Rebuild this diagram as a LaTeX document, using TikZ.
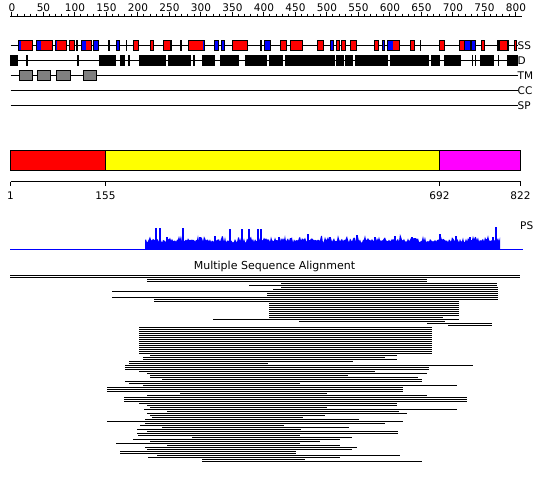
\documentclass[tikz,border=0pt]{standalone}
\usepackage{fontspec}
\setmainfont{DejaVu Sans}
\definecolor{ssred}{RGB}{255,0,0}
\definecolor{ssblue}{RGB}{0,0,255}
\definecolor{tmgray}{RGB}{128,128,128}
\definecolor{domyellow}{RGB}{255,255,0}
\definecolor{dommag}{RGB}{255,0,255}
\tikzset{
  lbl/.style={font=\fontsize{10.5}{12}\selectfont, inner sep=0pt},
  rowline/.style={line width=1pt, black},
  feat/.style={draw=black, line width=1pt},
  alnline/.style={line width=1pt, black},
}
\begin{document}
\begin{tikzpicture}[x=1pt,y=-1pt]
\useasboundingbox (0,0) rectangle (550,483);
% ---------- top ruler ----------
\draw[line width=1pt] (10,16.5) -- (522,16.5);
\foreach \r in {0,10,...,800}{
  \draw[line width=1pt] ({11.5+0.63*\r},13.5) -- ({11.5+0.63*\r},16.5);
}
\foreach \r in {0,50,...,800}{
  \draw[line width=1pt] ({11.5+0.63*\r},11.5) -- ({11.5+0.63*\r},16.5);
  \node[lbl, anchor=south] (rl\r) at ({12+0.63*\r},12) {\r};
}
% ---------- track lines ----------
\foreach \yy/\t in {45.5/SS,60.5/D,75.5/TM,90.5/CC,105.5/SP}{
  \draw[rowline] (10.5,\yy) -- (518,\yy);
  \node[lbl, anchor=west] (lab\t) at (517.5,\yy) {\t};
}
% ---------- SS row ----------
\def\ssT{40.5}\def\ssB{50.5}
\foreach \a/\b/\c in {18.3/21/ssblue,21/32.3/ssred,36/41.3/ssblue,41.3/52.3/ssred,55/57.3/ssblue,57.3/66.7/ssred,
  81.3/85.7/ssblue,85.7/91.7/ssred,163.3/169.5/ssred,169.5/171.3/black,188.3/202.7/ssred,202.7/204.3/ssblue,
  387/393.3/ssblue,393.3/399.5/ssred,497.7/500/black,500/506.7/ssred,506.7/508.3/black}{
  \fill[\c] (\a,\ssT) rectangle (\b,\ssB);
}
\foreach \a/\b in {18.3/32.3,36/52.3,55/66.7,81.3/91.7,163.3/171.3,188.3/204.3,387/399.5,497.7/508.3}{
  \draw[line width=1pt] (\a,\ssT) rectangle (\b,\ssB);
}
\foreach \a/\b/\c in {69/74.3/ssred,93.3/98.7/ssblue,116.3/119.3/ssblue,133.3/138.3/ssred,150/153.3/ssred,
  214/218.7/ssblue,221/224.7/ssblue,232.3/247.3/ssred,264.3/270/ssblue,280.3/286.3/ssred,290.5/302/ssred,
  317.5/323.5/ssred,330.3/333.5/ssblue,336/339.3/ssred,341.3/345.7/ssred,350.3/356.7/ssred,374.3/378.7/ssred,
  382/384.7/ssblue,410/414.7/ssred,439/444.3/ssred,459.5/464.3/ssred,464.3/470.3/ssblue,471.3/475/ssblue,
  481.3/484/ssred,514/516/ssred}{
  \draw[feat, fill=\c] (\a,\ssT) rectangle (\b,\ssB);
}
\foreach \a in {76,108.3,125.7,180.3,260,335.5,419.5}{
  \fill[black] (\a,\ssT-0.5) rectangle (\a+1.6,\ssB+0.5);
}
% ---------- D row ----------
\def\dT{55}\def\dB{66}
\foreach \a/\b in {10/17.7,26/27.5,77.3/78.9,99/115.7,120/125,128/129.5,139/165.7,168/191,193/194.8,
  202/215,220/239,245/266.7,269/283,285.3/335,336/344,345/353,355.3/388,390/429,430.5/440,444.3/460.5,
  472/473.4,474.7/476.1,480.3/493.5,497.7/499,507/517.5}{
  \fill[black] (\a,\dT) rectangle (\b,\dB);
}
% ---------- TM row ----------
\foreach \a/\b in {19.3/32.3,37.3/50.3,56.7/70.3,83.3/96.7}{
  \draw[feat, fill=tmgray] (\a,70.5) rectangle (\b,80.5);
}
% ---------- domain bar ----------
\fill[ssred] (10.5,150.5) rectangle (105.5,170.5);
\fill[domyellow] (105.5,150.5) rectangle (439.5,170.5);
\fill[dommag] (439.5,150.5) rectangle (520.5,170.5);
\draw[line width=1pt] (10.5,150.5) rectangle (520.5,170.5);
\draw[line width=1pt] (105.5,150.5) -- (105.5,170.5);
\draw[line width=1pt] (439.5,150.5) -- (439.5,170.5);
% axis
\draw[line width=1pt] (10.5,181.5) -- (520.5,181.5);
\foreach \xx/\t in {10.5/1,105.5/155,439.5/692,520.5/822}{
  \draw[line width=1pt] (\xx,181.5) -- (\xx,186);
  \node[lbl, anchor=center] (ax\t) at (\xx,196) {\t};
}
% ---------- PS profile ----------
\node[lbl, anchor=west] (ps) at (520,226) {PS};
\pgfmathsetseed{7}
\fill[ssblue] (145,249) \foreach \x in {145,146,...,500}{ -- (\x,{249-6-7*rnd*rnd-3*rnd}) } -- (500,249) -- cycle;
\foreach \xx/\yy in {156/228,160/228,183/228,230/229,242/229,249/229,258/229,261/229,308/234,357/235,
  375/237,395/236,412/237,440/234,456/236,493/237,496/227,167/237,200/237,215/236,279/237,330/237,470/237}{
  \fill[ssblue] (\xx-0.8,249) rectangle (\xx+0.8,\yy);
}
\draw[ssblue, line width=1.2pt] (10,249.5) -- (523,249.5);
% ---------- MSA ----------
\node[lbl, font=\fontsize{11}{13}\selectfont, anchor=center] (msa) at (274.5,266) {Multiple Sequence Alignment};
\foreach \i/\a/\b in {0/10/520,1/10/520,2/147/427,3/147/427,4/281/497,5/249/497,6/281/498,7/273/498,
  8/112/498,9/267/498,10/267/498,11/112/498,12/154/498,13/154/459,14/269/459,15/269/459,16/269/459,
  17/269/459,18/269/459,19/269/459,20/269/459,21/269/443,22/213/459,23/299/445,24/427/492,25/448/492,
  26/139/432,27/139/432,28/139/432,29/139/432,30/139/432,31/139/432,32/139/432,33/139/432,34/139/432,
  35/139/432,36/139/432,37/139/432,38/139/432,39/139/432,
  40/150/397,41/143/385,42/143/397,43/129/353,44/129/268,45/125/473,46/125/429,47/125/429,48/139/375,
  49/147/427,50/150/348,51/150/418,52/162/422,53/125/422,54/129/300,55/143/457,56/107/403,57/107/403,
  58/107/403,59/180/327,60/147/427,61/124/467,62/124/467,63/124/467,64/139/397,65/147/397,66/150/327,
  67/144/457,68/167/399,69/147/407,70/150/325,71/152/303,72/145/359,73/107/403,74/145/385,75/140/284,
  76/162/349,77/137/301,78/147/398,79/137/398,80/138/300,81/192/352,82/133/340,83/150/320,84/116/300,
  85/167/340,86/145/357,87/147/352,88/120/296,89/120/296,90/157/400,91/148/340,92/202/305,93/202/422}{
  \draw[alnline] (\a,{275.5+2*\i}) -- (\b,{275.5+2*\i});
}
\end{tikzpicture}
\end{document}
